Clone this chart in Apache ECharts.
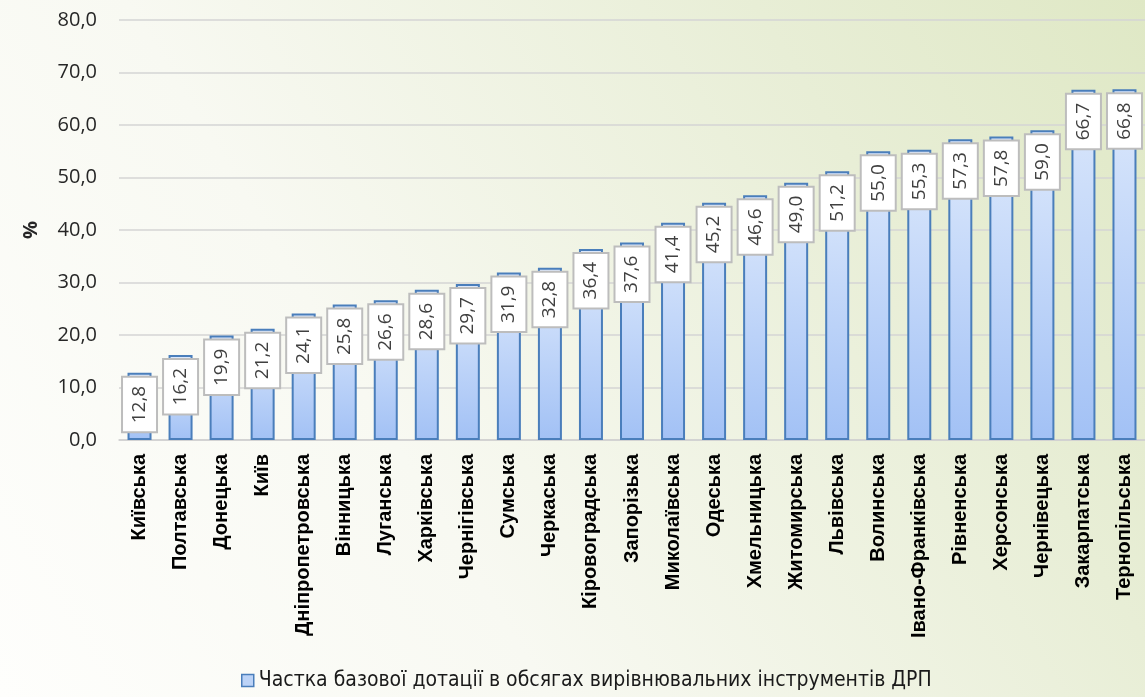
<!DOCTYPE html>
<html>
<head>
<meta charset="utf-8">
<script src="https://cdn.jsdelivr.net/npm/echarts@6/dist/echarts.min.js"></script>
<style>
html,body{margin:0;padding:0;}
#chart{width:1145px;height:697px;}
</style>
</head>
<body>
<div id="chart"></div>
<script>
const categories = ["Київська","Полтавська","Донецька","Київ","Дніпропетровська","Вінницька","Луганська","Харківська","Чернігівська","Сумська","Черкаська","Кіровоградська","Запорізька","Миколаївська","Одеська","Хмельницька","Житомирська","Львівська","Волинська","Івано-Франківська","Рівненська","Херсонська","Чернівецька","Закарпатська","Тернопільська"];
const values = [12.8,16.2,19.9,21.2,24.1,25.8,26.6,28.6,29.7,31.9,32.8,36.4,37.6,41.4,45.2,46.6,49.0,51.2,55.0,55.3,57.3,57.8,59.0,66.7,66.8];
const seriesName = "Частка базової дотації в обсягах вирівнювальних інструментів ДРП";
const yAxisName = "%";
const yMin = 0, yMax = 80, yStep = 10;

const fmt = v => Number(v).toFixed(1).replace('.', ',');

const chart = echarts.init(document.getElementById('chart'));
chart.setOption({
  animation: false,
  backgroundColor: new echarts.graphic.LinearGradient(0, 1, 1, 0, [
    {offset: 0, color: '#fefefc'},
    {offset: 0.35, color: '#f8f9f2'},
    {offset: 0.75, color: '#e8eed6'},
    {offset: 1, color: '#dfe8c5'}
  ]),
  grid: {left: 119, right: -4, top: 20, bottom: 257, containLabel: false},
  legend: {
    bottom: 1,
    left: 236,
    icon: 'rect',
    itemWidth: 12,
    itemHeight: 12,
    itemGap: 5,
    itemStyle: {borderColor: '#4a7ebb', borderWidth: 1.5, color: '#bcd3f7'},
    textStyle: {fontFamily: 'DejaVu Sans Condensed', fontSize: 21, color: '#1a1a1a'},
    data: [seriesName]
  },
  xAxis: {
    type: 'category',
    data: categories,
    axisLine: {lineStyle: {color: '#d0d0d0', width: 1.5}},
    axisTick: {show: false},
    axisLabel: {rotate: 90, interval: 0, margin: 14, fontFamily: 'Liberation Sans', fontWeight: 'bold', fontSize: 20, color: '#000'}
  },
  yAxis: {
    type: 'value',
    min: yMin, max: yMax, interval: yStep,
    name: yAxisName,
    nameLocation: 'middle',
    nameGap: 78,
    nameRotate: 90,
    nameTextStyle: {fontFamily: 'Open Sans', fontSize: 20, fontWeight: 'bold', color: '#262626'},
    axisLine: {show: false},
    axisTick: {show: false},
    splitLine: {lineStyle: {color: '#d4d4d4', width: 1.5}},
    axisLabel: {margin: 22, formatter: fmt, fontFamily: 'Open Sans', fontSize: 20, color: '#262626'}
  },
  series: [{
    name: seriesName,
    type: 'bar',
    data: values,
    barWidth: 24,
    itemStyle: {
      borderColor: '#4a7ebb',
      borderWidth: 2,
      color: new echarts.graphic.LinearGradient(0, 0, 0, 1, [
        {offset: 0, color: '#dde9fc'},
        {offset: 1, color: '#a2c1f5'}
      ])
    },
    label: {
      show: true,
      position: 'insideTop',
      distance: 5,
      rotate: 90,
      align: 'right',
      verticalAlign: 'middle',
      formatter: p => fmt(p.value),
      fontFamily: 'Open Sans',
      fontSize: 19,
      color: '#404040',
      backgroundColor: '#ffffff',
      borderColor: '#bdbdbd',
      borderWidth: 2,
      padding: [8, 8, 6, 8]
    }
  }]
});
</script>
</body>
</html>
